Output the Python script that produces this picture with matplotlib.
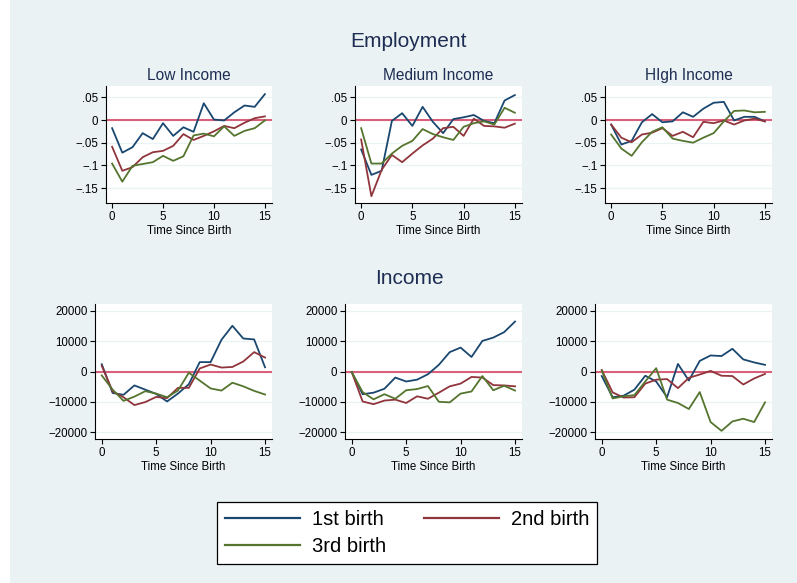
import matplotlib
matplotlib.use("Agg")
import matplotlib.pyplot as plt
from matplotlib.lines import Line2D
from matplotlib.patches import Rectangle

plt.rcParams["font.family"] = ["Liberation Sans", "DejaVu Sans"]

# ---- data -------------------------------------------------------------
t = list(range(16))
groups = ["Low Income", "Medium Income", "HIgh Income"]
series_names = ["1st birth", "2nd birth", "3rd birth"]

emp_low_1 = [-0.018, -0.072, -0.060, -0.029, -0.042, -0.007, -0.035, -0.016,
             -0.026, 0.037, 0.001, -0.001, 0.017, 0.032, 0.029, 0.057]
emp_low_2 = [-0.059, -0.112, -0.104, -0.082, -0.071, -0.068, -0.057, -0.031,
             -0.044, -0.035, -0.025, -0.013, -0.018, -0.006, 0.004, 0.008]
emp_low_3 = [-0.096, -0.136, -0.101, -0.097, -0.093, -0.079, -0.090, -0.080,
             -0.034, -0.030, -0.036, -0.014, -0.035, -0.024, -0.018, -0.001]

emp_med_1 = [-0.065, -0.121, -0.112, -0.002, 0.015, -0.013, 0.029, -0.004,
             -0.029, 0.002, 0.006, 0.011, -0.002, -0.007, 0.043, 0.055]
emp_med_2 = [-0.043, -0.168, -0.110, -0.077, -0.093, -0.074, -0.056, -0.041,
             -0.018, -0.015, -0.035, 0.003, -0.013, -0.014, -0.017, -0.008]
emp_med_3 = [-0.018, -0.096, -0.096, -0.074, -0.057, -0.046, -0.020, -0.031,
             -0.038, -0.044, -0.015, -0.007, -0.003, -0.010, 0.027, 0.016]

emp_high_1 = [-0.010, -0.054, -0.046, -0.005, 0.013, -0.005, -0.003, 0.017,
              0.007, 0.025, 0.038, 0.040, -0.001, 0.007, 0.007, -0.003]
emp_high_2 = [-0.010, -0.039, -0.049, -0.032, -0.028, -0.018, -0.035, -0.026,
              -0.038, -0.004, -0.007, -0.001, -0.010, -0.001, 0.003, -0.003]
emp_high_3 = [-0.032, -0.063, -0.079, -0.049, -0.026, -0.016, -0.041, -0.046,
              -0.050, -0.039, -0.029, -0.003, 0.020, 0.021, 0.017, 0.018]

inc_low_1 = [2400, -7100, -7700, -4600, -6000, -7400, -9900, -7300,
             -4200, 3100, 3100, 10500, 15100, 10900, 10600, 1400]
inc_low_2 = [1900, -6600, -8500, -11100, -10100, -8400, -8800, -5400,
             -5400, 1000, 2300, 1300, 1500, 3300, 6400, 4600]
inc_low_3 = [-1300, -6000, -9700, -8300, -6500, -7300, -8500, -6300,
             -400, -3000, -5600, -6300, -3700, -4900, -6400, -7600]

inc_med_1 = [-200, -7500, -7000, -5700, -2000, -3300, -2700, -900,
             2200, 6400, 7900, 4800, 10100, 11200, 13000, 16500]
inc_med_2 = [-200, -9900, -10800, -9600, -9300, -10400, -8200, -9000,
             -7000, -4900, -4000, -1800, -2000, -4500, -4600, -4900]
inc_med_3 = [-200, -6800, -9200, -7500, -9000, -6200, -5800, -4800,
             -10000, -10200, -7300, -6600, -1500, -6200, -4700, -6300]

inc_high_1 = [-1500, -8500, -8000, -6000, -1400, -3300, -8500, 2500,
              -3000, 3500, 5300, 5100, 7500, 4000, 3000, 2200]
inc_high_2 = [500, -6900, -8600, -8500, -4000, -2700, -2500, -5500,
              -2100, -1000, 200, -1400, -1500, -4300, -2300, -800]
inc_high_3 = [300, -8900, -8200, -7800, -3300, 1100, -9300, -10400,
              -12400, -6800, -16700, -19600, -16500, -15600, -16700, -10200]

x_ticks = [0, 5, 10, 15]
emp_ticks = [0.05, 0, -0.05, -0.1, -0.15]
emp_tick_labels = [".05", "0", "\u2212.05", "\u2212.1", "\u2212.15"]
inc_ticks = [20000, 10000, 0, -10000, -20000]
inc_tick_labels = ["20000", "10000", "0", "\u221210000", "\u221220000"]

# ---- style ------------------------------------------------------------
BG = "#eaf2f3"
TITLE_C = "#1e2d53"
COLORS = ["#1a476f", "#90353b", "#55752f"]
ZERO_C = "#d8607a"
W, H = 797, 583

fig = plt.figure(figsize=(W / 100, H / 100), dpi=100, facecolor=BG)
fig.patches.append(Rectangle((0, 0), 10 / W, 1, transform=fig.transFigure,
                             facecolor="white", edgecolor="none", zorder=-1))


def px_axes(left, top, right, bottom):
    return fig.add_axes([left / W, 1 - bottom / H, (right - left) / W,
                         (bottom - top) / H])


def style_panel(ax, ticks, labels, ylim, xlim):
    ax.set_facecolor("white")
    for s in ("top", "right"):
        ax.spines[s].set_visible(False)
    for s in ("left", "bottom"):
        ax.spines[s].set_color("black")
        ax.spines[s].set_linewidth(0.8)
    ax.set_xlim(*xlim)
    ax.set_ylim(*ylim)
    ax.set_xticks(x_ticks)
    ax.set_yticks(ticks)
    ax.set_yticklabels(labels)
    ax.tick_params(axis="both", direction="out", length=3.5, width=0.8,
                   labelsize=8.3, pad=2, colors="black")
    ax.grid(axis="y", color=BG, linewidth=0.9)
    ax.set_axisbelow(True)
    ax.axhline(0, color=ZERO_C, linewidth=1.5, zorder=1.5)
    ax.set_xlabel("Time Since Birth", fontsize=8.3, labelpad=1.5)


emp_data = [(emp_low_1, emp_low_2, emp_low_3),
            (emp_med_1, emp_med_2, emp_med_3),
            (emp_high_1, emp_high_2, emp_high_3)]
inc_data = [(inc_low_1, inc_low_2, inc_low_3),
            (inc_med_1, inc_med_2, inc_med_3),
            (inc_high_1, inc_high_2, inc_high_3)]

top_lefts = [106, 355, 605]
bot_lefts = [95, 345, 595]
rights = [272, 522, 772]

for i in range(3):
    ax = px_axes(top_lefts[i], 86, rights[i], 203)
    style_panel(ax, emp_ticks, emp_tick_labels, (-0.183, 0.075), (-0.6, 15.7))
    for ys, c in zip(emp_data[i], COLORS):
        ax.plot(t, ys, color=c, linewidth=1.3, zorder=3)
    ax.set_title(groups[i], fontsize=11.2, color=TITLE_C, pad=4)

    ax2 = px_axes(bot_lefts[i], 304, rights[i], 439)
    style_panel(ax2, inc_ticks, inc_tick_labels, (-22300, 22300), (-0.62, 15.64))
    for ys, c in zip(inc_data[i], COLORS):
        ax2.plot(t, ys, color=c, linewidth=1.3, zorder=3)

fig.text(409 / W, 1 - 47 / H, "Employment", ha="center", va="baseline",
         fontsize=15, color=TITLE_C)
fig.text(409 / W, 1 - 284 / H, "Income", ha="center", va="baseline",
         fontsize=15, color=TITLE_C)

# legend entries fill row by row: 1st, 2nd on the first row, 3rd below
handles = [Line2D([], [], color=c, linewidth=1.6) for c in COLORS]
order = [0, 2, 1]
leg = fig.legend([handles[k] for k in order], [series_names[k] for k in order],
                 loc="center", bbox_to_anchor=(407 / W, 1 - 533 / H), ncol=2,
                 fontsize=14.5, handlelength=3.7, handletextpad=0.6,
                 columnspacing=1.9, labelspacing=0.42, frameon=True,
                 fancybox=False, borderpad=0.4)
frame = leg.get_frame()
frame.set_edgecolor("black")
frame.set_facecolor("white")
frame.set_linewidth(0.9)
frame.set_alpha(1)

fig.savefig("out.png", dpi=100, facecolor=BG)
